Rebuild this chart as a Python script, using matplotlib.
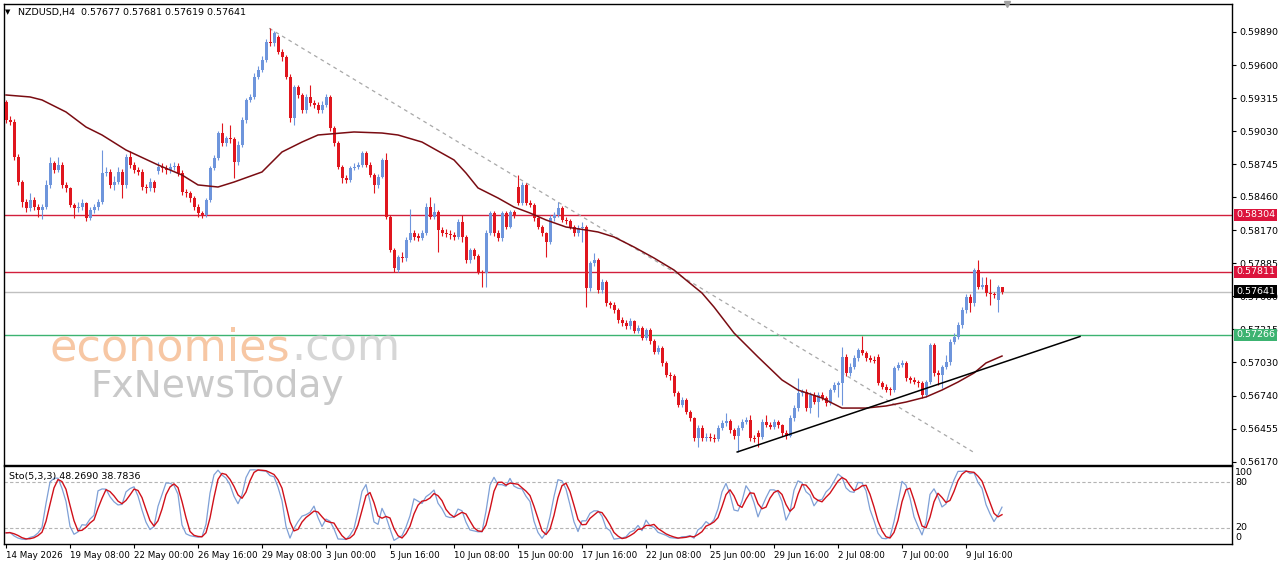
import numpy as np
import pandas as pd
import matplotlib
matplotlib.use("Agg")
import matplotlib.pyplot as plt
import matplotlib.transforms as mtransforms

# NZDUSD H4 candles (bar 0 = 14 May 16:00)
closes = [
    0.59126, 0.59111, 0.58808, 0.58592, 0.58419, 0.58362, 0.58434, 0.58376, 0.58347, 0.58376,
    0.58564, 0.58751, 0.58693, 0.58737, 0.58564, 0.58535, 0.58391, 0.58362, 0.58376, 0.58405,
    0.58275, 0.58347, 0.58376, 0.58419, 0.58665, 0.58679, 0.58564, 0.58592, 0.58679, 0.58564,
    0.58808, 0.58737, 0.58693, 0.58679, 0.58549, 0.58535, 0.58587, 0.58535, 0.58722, 0.58710,
    0.58693, 0.58722, 0.58728, 0.58665, 0.58506, 0.58492, 0.58448, 0.58376, 0.58319, 0.58304,
    0.58434, 0.58708, 0.58794, 0.59011, 0.58924, 0.58967, 0.58960, 0.58765, 0.58910, 0.59126,
    0.59299, 0.59327, 0.59500, 0.59558, 0.59645, 0.59803, 0.59789, 0.59876, 0.59717, 0.59673,
    0.59500, 0.59140, 0.59414, 0.59342, 0.59212, 0.59327, 0.59270, 0.59256, 0.59212, 0.59256,
    0.59327, 0.59054, 0.58924, 0.58722, 0.58621, 0.58607, 0.58708, 0.58722, 0.58737, 0.58838,
    0.58737, 0.58650, 0.58564, 0.58635, 0.58780, 0.58289, 0.58001, 0.57846, 0.57941, 0.57932,
    0.58088, 0.58146, 0.58116, 0.58109, 0.58146, 0.58376, 0.58289, 0.58333, 0.58174, 0.58146,
    0.58140, 0.58131, 0.58116, 0.58246, 0.58116, 0.57915, 0.58001, 0.57949, 0.57814, 0.57800,
    0.58146, 0.58319, 0.58146, 0.58102, 0.58319, 0.58203, 0.58333, 0.58304, 0.58405, 0.58564,
    0.58405, 0.58391, 0.58275, 0.58203, 0.58146, 0.58073, 0.58275, 0.58304, 0.58362, 0.58261,
    0.58252, 0.58203, 0.58146, 0.58189, 0.58203, 0.57670, 0.57886, 0.57915, 0.57655, 0.57727,
    0.57540, 0.57525, 0.57482, 0.57396, 0.57370, 0.57344, 0.57387, 0.57301, 0.57327, 0.57240,
    0.57309, 0.57214, 0.57119, 0.57154, 0.57024, 0.56920, 0.56911, 0.56764, 0.56660, 0.56704,
    0.56600, 0.56548, 0.56375, 0.56462, 0.56375, 0.56384, 0.56375, 0.56370, 0.56462, 0.56505,
    0.56520, 0.56444, 0.56392, 0.56462, 0.56516, 0.56531, 0.56372, 0.56366, 0.56387, 0.56516,
    0.56487, 0.56473, 0.56516, 0.56487, 0.56418, 0.56392, 0.56545, 0.56632, 0.56762, 0.56776,
    0.56632, 0.56747, 0.56689, 0.56747, 0.56721, 0.56675, 0.56790, 0.56833, 0.56848, 0.57078,
    0.56935, 0.56992, 0.57064, 0.57136, 0.57108, 0.57064, 0.57050, 0.57041, 0.56848, 0.56819,
    0.56790, 0.56786, 0.56978, 0.57006, 0.57021, 0.56891, 0.56877, 0.56862, 0.56848, 0.56747,
    0.56862, 0.57179, 0.56935, 0.56920, 0.56992, 0.57035, 0.57208, 0.57251, 0.57352, 0.57482,
    0.57597, 0.57540, 0.57828, 0.57684, 0.57699, 0.57627, 0.57620, 0.57612, 0.57677, 0.57641,
]
highs = [
    0.59299, 0.59160, 0.59130, 0.58830, 0.58610, 0.58440, 0.58497, 0.58460, 0.58400, 0.58400,
    0.58607, 0.58803, 0.58770, 0.58808, 0.58760, 0.58590, 0.58550, 0.58410, 0.58420, 0.58440,
    0.58420, 0.58370, 0.58400, 0.58440, 0.58866, 0.58720, 0.58700, 0.58640, 0.58720, 0.58700,
    0.58830, 0.58860, 0.58760, 0.58720, 0.58700, 0.58570, 0.58620, 0.58610, 0.58765, 0.58750,
    0.58740, 0.58750, 0.58760, 0.58750, 0.58690, 0.58530, 0.58510, 0.58470, 0.58400, 0.58340,
    0.58450, 0.58730, 0.58820, 0.59030, 0.59097, 0.58990, 0.59083, 0.58980, 0.58940, 0.59150,
    0.59320, 0.59350, 0.59530, 0.59590, 0.59680, 0.59830, 0.59919, 0.59896, 0.59860, 0.59740,
    0.59690, 0.59520, 0.59430, 0.59430, 0.59360, 0.59350, 0.59429, 0.59300, 0.59280, 0.59290,
    0.59350, 0.59340, 0.59070, 0.58940, 0.58740, 0.58650, 0.58730, 0.58750, 0.58760, 0.58860,
    0.58860, 0.58760, 0.58670, 0.58660, 0.58800, 0.58838, 0.58300, 0.58020, 0.57960, 0.57980,
    0.58110, 0.58353, 0.58170, 0.58150, 0.58170, 0.58405, 0.58462, 0.58405, 0.58350, 0.58200,
    0.58180, 0.58170, 0.58160, 0.58270, 0.58304, 0.58130, 0.58020, 0.58020, 0.57970, 0.57830,
    0.58170, 0.58340, 0.58340, 0.58170, 0.58340, 0.58340, 0.58350, 0.58350, 0.58650, 0.58590,
    0.58580, 0.58430, 0.58410, 0.58290, 0.58220, 0.58160, 0.58300, 0.58330, 0.58419, 0.58380,
    0.58290, 0.58270, 0.58220, 0.58220, 0.58240, 0.58220, 0.57910, 0.57973, 0.57930, 0.57750,
    0.57740, 0.57560, 0.57550, 0.57500, 0.57420, 0.57400, 0.57410, 0.57400, 0.57350, 0.57344,
    0.57330, 0.57330, 0.57230, 0.57180, 0.57170, 0.57040, 0.56950, 0.56930, 0.56780, 0.56730,
    0.56720, 0.56620, 0.56560, 0.56490, 0.56490, 0.56420, 0.56420, 0.56410, 0.56490, 0.56530,
    0.56594, 0.56540, 0.56460, 0.56490, 0.56540, 0.56560, 0.56574, 0.56400, 0.56440, 0.56540,
    0.56574, 0.56510, 0.56540, 0.56530, 0.56500, 0.56440, 0.56570, 0.56660, 0.56891, 0.56800,
    0.56800, 0.56770, 0.56770, 0.56770, 0.56770, 0.56740, 0.56810, 0.56860, 0.56870, 0.57165,
    0.57100, 0.57020, 0.57090, 0.57151, 0.57257, 0.57130, 0.57090, 0.57080, 0.57100, 0.56870,
    0.56840, 0.56820, 0.57000, 0.57030, 0.57050, 0.57040, 0.56910, 0.56900, 0.56880, 0.56870,
    0.56880, 0.57194, 0.57200, 0.56960, 0.57010, 0.57093, 0.57230, 0.57281, 0.57380, 0.57510,
    0.57620, 0.57620, 0.57843, 0.57915, 0.57770, 0.57770, 0.57748, 0.57640, 0.57700, 0.57681,
]
lows = [
    0.59100, 0.59080, 0.58780, 0.58560, 0.58376, 0.58330, 0.58340, 0.58350, 0.58289, 0.58267,
    0.58360, 0.58540, 0.58670, 0.58680, 0.58540, 0.58500, 0.58370, 0.58275, 0.58330, 0.58350,
    0.58250, 0.58260, 0.58320, 0.58350, 0.58400, 0.58640, 0.58540, 0.58520, 0.58570, 0.58448,
    0.58540, 0.58710, 0.58670, 0.58650, 0.58520, 0.58490, 0.58510, 0.58500, 0.58660, 0.58680,
    0.58660, 0.58670, 0.58690, 0.58640, 0.58480, 0.58460, 0.58420, 0.58350, 0.58289, 0.58275,
    0.58290, 0.58420, 0.58690, 0.58780, 0.58900, 0.58900, 0.58930, 0.58621, 0.58740, 0.58890,
    0.59100, 0.59280, 0.59310, 0.59480, 0.59540, 0.59630, 0.59770, 0.59770, 0.59700, 0.59640,
    0.59480, 0.59110, 0.59083, 0.59320, 0.59190, 0.59190, 0.59250, 0.59230, 0.59190, 0.59190,
    0.59240, 0.59030, 0.58900, 0.58700, 0.58578, 0.58580, 0.58590, 0.58690, 0.58700, 0.58720,
    0.58720, 0.58630, 0.58492, 0.58540, 0.58620, 0.58270, 0.57980, 0.57811, 0.57814, 0.57900,
    0.57910, 0.58070, 0.58090, 0.58080, 0.58090, 0.58130, 0.58270, 0.58270, 0.57987, 0.58120,
    0.58110, 0.58100, 0.58090, 0.58100, 0.58073, 0.57890, 0.57890, 0.57920, 0.57790, 0.57684,
    0.57684, 0.58130, 0.58120, 0.58080, 0.58080, 0.58180, 0.58190, 0.58280, 0.58390, 0.58390,
    0.58390, 0.58370, 0.58250, 0.58180, 0.58120, 0.57943, 0.58050, 0.58250, 0.58290, 0.58240,
    0.58230, 0.58180, 0.58120, 0.58120, 0.58073, 0.57511, 0.57650, 0.57860, 0.57630, 0.57630,
    0.57520, 0.57500, 0.57460, 0.57370, 0.57340, 0.57320, 0.57320, 0.57280, 0.57280, 0.57220,
    0.57220, 0.57190, 0.57100, 0.57100, 0.57000, 0.56900, 0.56880, 0.56740, 0.56640, 0.56640,
    0.56580, 0.56520, 0.56350, 0.56297, 0.56350, 0.56350, 0.56350, 0.56340, 0.56350, 0.56440,
    0.56480, 0.56420, 0.56370, 0.56257, 0.56440, 0.56500, 0.56350, 0.56340, 0.56300, 0.56370,
    0.56470, 0.56450, 0.56450, 0.56460, 0.56390, 0.56370, 0.56380, 0.56520, 0.56610, 0.56740,
    0.56610, 0.56589, 0.56670, 0.56559, 0.56700, 0.56650, 0.56660, 0.56770, 0.56732, 0.56661,
    0.56910, 0.56910, 0.56970, 0.57040, 0.57090, 0.57040, 0.57030, 0.57020, 0.56830, 0.56800,
    0.56770, 0.56747, 0.56770, 0.56960, 0.56990, 0.56870, 0.56850, 0.56840, 0.56820, 0.56718,
    0.56732, 0.56840, 0.56910, 0.56834, 0.56805, 0.56970, 0.57010, 0.57190, 0.57230, 0.57330,
    0.57460, 0.57468, 0.57520, 0.57660, 0.57660, 0.57600, 0.57526, 0.57590, 0.57468, 0.57619,
]
first_open = 0.59284
# Monday bars that open with a weekend gap
gap_bars = [38, 68, 98, 128, 188, 218, 248]
gap_opens = [0.58687, 0.59841, 0.57828, 0.58549, 0.56416, 0.57078, 0.57569]

# moving average, sampled along the line
ma_bars = [0, 6, 9, 15, 20, 24, 30, 38, 44, 48, 53, 57, 64, 69, 74, 78, 87, 94, 98, 104,
           112, 115, 118, 123, 127, 131, 135, 140, 145, 148, 152, 157, 162, 167, 170, 174,
           177, 182, 188, 194, 198, 204, 209, 215, 220, 225, 230, 234, 238, 242, 245, 249]
ma_vals = [0.59342, 0.59325, 0.59299, 0.59195, 0.59065, 0.58996, 0.58866, 0.58737, 0.58650,
           0.58564, 0.58546, 0.58589, 0.58676, 0.58849, 0.58935, 0.58996, 0.59022, 0.59013,
           0.58996, 0.58935, 0.58780, 0.58667, 0.58538, 0.58451, 0.58373, 0.58321, 0.58261,
           0.58200, 0.58174, 0.58157, 0.58114, 0.58027, 0.57932, 0.57828, 0.57742, 0.57629,
           0.57508, 0.57283, 0.57076, 0.56877, 0.56790, 0.56721, 0.56634, 0.56634, 0.56652,
           0.56686, 0.56730, 0.56790, 0.56859, 0.56937, 0.57024, 0.57084]

# drawn objects on the chart
levels = [0.58304, 0.57811, 0.57641, 0.57266]
level_line_colors = ["#d21f3c", "#d21f3c", "#c0c0c0", "#3cb371"]
level_box_colors = ["#dc143c", "#dc143c", "#000000", "#3cb371"]
down_line_bars = [65.8, 241.8]
down_line_prices = [0.59919, 0.56254]
up_line_bars = [182.8, 268.5]
up_line_prices = [0.56254, 0.57253]

price_ticks = [0.59890, 0.59600, 0.59315, 0.59030, 0.58745, 0.58460, 0.58170,
               0.57885, 0.57600, 0.57315, 0.57030, 0.56740, 0.56455, 0.56170]
time_label_bars = [0, 16, 32, 48, 64, 80, 96, 112, 128, 144, 160, 176, 192, 208, 224, 240]
time_labels = ["14 May 2026", "19 May 08:00", "22 May 00:00", "26 May 16:00", "29 May 08:00",
               "3 Jun 00:00", "5 Jun 16:00", "10 Jun 08:00", "15 Jun 00:00", "17 Jun 16:00",
               "22 Jun 08:00", "25 Jun 00:00", "29 Jun 16:00", "2 Jul 08:00", "7 Jul 00:00",
               "9 Jul 16:00"]

BULL = "#6e95dc"
BEAR = "#e0161e"
W, H = 1280, 567

c = np.array(closes)
o = np.array([first_open] + closes[:-1])
o[gap_bars] = gap_opens
hi = np.array(highs)
lo = np.array(lows)
n = len(c)
x = np.arange(n)

# Sto(5,3,3)
df = pd.DataFrame({"h": hi, "l": lo, "c": c})
ll = df["l"].rolling(5, min_periods=1).min()
hh = df["h"].rolling(5, min_periods=1).max()
k_line = 100 * (df["c"] - ll).rolling(3, min_periods=1).sum() / (hh - ll).rolling(3, min_periods=1).sum()
d_line = k_line.rolling(3, min_periods=1).mean()

plt.rcParams["font.family"] = ["DejaVu Sans"]
fig = plt.figure(figsize=(W / 100, H / 100), dpi=100)
fig.patch.set_facecolor("white")

ax = fig.add_axes([4 / W, 1 - 465 / H, 1228 / W, 461 / H])
ax2 = fig.add_axes([4 / W, 1 - 544 / H, 1228 / W, 78 / H], sharex=ax)

ax.set_xlim(-0.5, 306.5)
ax.set_ylim(0.561415, 0.60129)

# watermark
fig.text(50 / W, 1 - 348 / H, "economies", fontsize=32, color="#f7c7a4", va="center", ha="left", zorder=0)
fig.text(291 / W, 1 - 348 / H, ".com", fontsize=32, color="#d6d6d6", va="center", ha="left", zorder=0)
fig.text(90 / W, 1 - 387 / H, "FxNewsToday", fontsize=27, color="#c9c9c9", va="center", ha="left", zorder=0)

# level lines
for lv, lc in zip(levels, level_line_colors):
    ax.axhline(lv, color=lc, lw=1.0, zorder=1)

# candles
col = np.where(c >= o, BULL, BEAR)
ax.vlines(x, lo, hi, colors=col, lw=0.8, zorder=3)
body = np.maximum(np.abs(c - o), 0.00009)
ax.bar(x, body, bottom=np.minimum(o, c), width=0.75, color=col, lw=0, zorder=3)

# moving average and trend lines
ax.plot(ma_bars, ma_vals, color="#7a0c12", lw=1.1, zorder=4)
ax.plot(down_line_bars, down_line_prices, color="#a8a8a8", lw=0.9, ls=(0, (3, 3)), zorder=2)
ax.plot(up_line_bars, up_line_prices, color="black", lw=1.1, zorder=4)

# chart shift marker
ax.plot([n + 0.25], [1.0], marker="v", color="#a0a0a0", ms=5, clip_on=False,
        transform=ax.get_xaxis_transform(), zorder=5)

ax.yaxis.tick_right()
ax.set_yticks(price_ticks)
ax.set_yticklabels([f"{p:.5f}" for p in price_ticks])
ax.tick_params(axis="y", direction="out", length=3, width=0.8, labelsize=6.8, pad=2, colors="black")
ax.tick_params(axis="x", bottom=False, labelbottom=False)
for s in ax.spines.values():
    s.set_linewidth(1.0)

lbl_tr = mtransforms.offset_copy(ax.get_yaxis_transform(), fig=fig, x=4, y=0, units="dots")
for lv, bc in zip(levels, level_box_colors):
    ax.text(1.0, lv, f"{lv:.5f}", transform=lbl_tr, color="white", fontsize=6.8, va="center", ha="left",
            bbox=dict(boxstyle="square,pad=0.2", fc=bc, ec="none"), zorder=6, clip_on=False)

fig.text(5 / W, 1 - 12 / H, "\u25bc", fontsize=5, va="center", ha="left")
fig.text(18 / W, 1 - 12 / H, "NZDUSD,H4  0.57677 0.57681 0.57619 0.57641", fontsize=6.8, va="center", ha="left")

# stochastic panel
ax2.set_ylim(-1.7, 101.7)
for lv in (20, 80):
    ax2.axhline(lv, color="#b4b4b4", lw=0.8, ls=(0, (3, 2)), zorder=1)
ax2.plot(x, k_line, color="#7fa0d6", lw=0.9, zorder=3)
ax2.plot(x, d_line, color="#d0101a", lw=1.0, zorder=4)
ax2.set_yticks([])
sto_tr = mtransforms.offset_copy(ax2.get_yaxis_transform(), fig=fig, x=3, y=0, units="dots")
for val, txt in zip([93.3, 80, 20, 6.7], ["100", "80", "20", "0"]):
    ax2.text(1.0, val, txt, transform=sto_tr, fontsize=6.8, va="center", ha="left", clip_on=False)
ax2.text(5 / 1228, 0.87, "Sto(5,3,3) 48.2690 38.7836", transform=ax2.transAxes, fontsize=6.8,
         va="center", ha="left")
ax2.set_xticks(time_label_bars)
ax2.set_xticklabels(time_labels, ha="left")
ax2.tick_params(axis="x", direction="out", length=3, width=0.8, labelsize=6.3, pad=2)
for s in ax2.spines.values():
    s.set_linewidth(1.0)

fig.savefig("out.png", dpi=100, facecolor="white")
